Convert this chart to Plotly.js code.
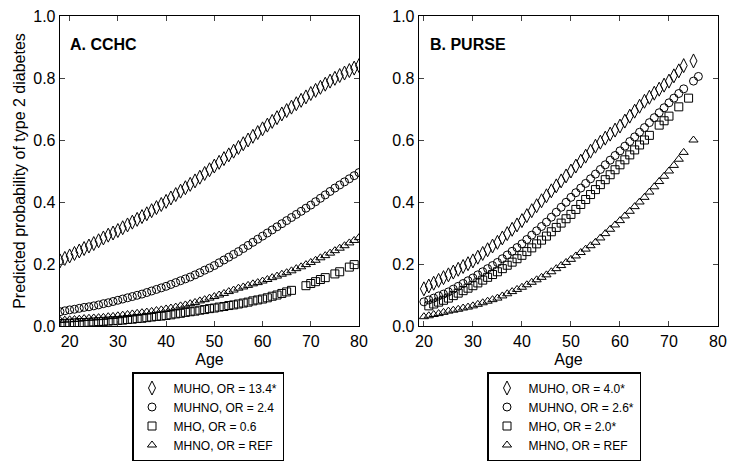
<!DOCTYPE html>
<html>
<head>
<meta charset="utf-8">
<script src="https://cdn.plot.ly/plotly-3.0.1.min.js"></script>
<style>html,body{margin:0;padding:0;background:#fff;}#chart{width:737px;height:464px;}</style>
</head>
<body>
<div id="chart"></div>
<script>
// ---- Panel A: CCHC ----
const cchcAge = [18,19,20,21,22,23,24,25,26,27,28,29,30,31,32,33,34,35,36,37,38,39,40,41,42,43,44,45,46,47,48,49,50,51,52,53,54,55,56,57,58,59,60,61,62,63,64,65,66,67,68,69,70,71,72,73,74,75,76,77,78,79,80];
const cchcMUHO = [.210,.218,.226,.234,.242,.250,.258,.266,.275,.284,.293,.300,.308,.317,.326,.335,.344,.353,.362,.372,.382,.392,.402,.413,.424,.435,.446,.457,.468,.480,.492,.504,.516,.528,.540,.552,.564,.576,.588,.600,.612,.624,.636,.648,.660,.672,.684,.695,.706,.717,.728,.739,.750,.760,.770,.780,.790,.799,.808,.816,.824,.832,.840];
const cchcMUHNO = [.046,.049,.052,.054,.057,.060,.062,.065,.068,.072,.075,.079,.083,.087,.091,.095,.099,.103,.108,.113,.118,.123,.128,.134,.140,.146,.152,.158,.165,.172,.180,.187,.195,.204,.213,.222,.231,.240,.250,.260,.270,.280,.290,.300,.310,.320,.330,.340,.350,.360,.370,.380,.390,.401,.412,.423,.434,.445,.455,.465,.475,.485,.495];
const cchcMHNO = [.018,.019,.020,.021,.022,.024,.025,.026,.027,.028,.030,.031,.033,.035,.037,.039,.041,.043,.045,.047,.050,.052,.055,.058,.061,.065,.068,.072,.076,.081,.085,.090,.095,.100,.105,.111,.116,.122,.126,.131,.136,.140,.145,.150,.156,.161,.167,.172,.178,.185,.191,.198,.205,.212,.220,.227,.235,.243,.251,.259,.268,.276,.285];
const cchcAgeMHO = [18,19,20,21,22,23,24,25,26,27,28,29,30,31,32,33,34,35,36,37,38,39,40,41,42,43,44,45,46,47,48,49,50,51,52,53,54,55,56,57,58,59,60,61,62,63,64,65,66,69,70,71,72,73,75,76,78,79];
const cchcMHO = [.008,.0085,.009,.010,.011,.011,.012,.013,.014,.015,.016,.017,.018,.019,.021,.022,.024,.025,.027,.029,.031,.032,.034,.036,.039,.041,.044,.046,.048,.051,.053,.056,.058,.061,.063,.066,.068,.071,.074,.077,.081,.084,.087,.091,.096,.100,.105,.110,.115,.130,.137,.143,.150,.156,.168,.175,.190,.198];

// ---- Panel B: PURSE ----
const purseAgeMUHO = [20,21,22,23,24,25,26,27,28,29,30,31,32,33,34,35,36,37,38,39,40,41,42,43,44,45,46,47,48,49,50,51,52,53,54,55,56,57,58,59,60,61,62,63,64,65,66,67,68,69,70,71,72,73,75];
const purseMUHO = [.120,.129,.138,.147,.156,.165,.174,.183,.192,.201,.210,.222,.234,.246,.258,.270,.284,.298,.312,.326,.340,.356,.372,.388,.404,.420,.436,.452,.468,.484,.500,.516,.532,.548,.564,.580,.593,.606,.619,.632,.645,.661,.677,.693,.709,.725,.738,.751,.764,.777,.790,.807,.823,.840,.855];
const purseAgeMUHNO = [20,21,22,23,24,25,26,27,28,29,30,31,32,33,34,35,36,37,38,39,40,41,42,43,44,45,46,47,48,49,50,51,52,53,54,55,56,57,58,59,60,61,62,63,64,65,66,67,68,69,70,71,72,73,75,76];
const purseMUHNO = [.078,.084,.090,.097,.103,.110,.119,.128,.137,.146,.155,.165,.175,.185,.195,.205,.217,.229,.241,.253,.265,.279,.293,.307,.321,.335,.351,.367,.383,.399,.415,.430,.445,.460,.475,.490,.505,.520,.535,.550,.565,.580,.595,.610,.625,.640,.656,.672,.688,.704,.720,.735,.750,.765,.790,.805];
const purseAgeMHO = [21,22,23,24,25,26,27,28,29,30,31,32,33,34,35,36,37,38,39,40,41,42,43,44,45,46,47,48,49,50,51,52,53,54,55,56,57,58,59,60,61,62,63,64,65,66,68,69,70,72,74];
const purseMHO = [.065,.071,.077,.083,.090,.098,.106,.114,.122,.130,.139,.148,.157,.166,.175,.185,.196,.206,.217,.228,.240,.252,.265,.277,.290,.304,.318,.332,.346,.360,.376,.392,.408,.424,.440,.456,.472,.488,.504,.520,.536,.552,.568,.584,.600,.615,.648,.662,.677,.707,.735];
const purseAgeMHNO = [20,21,22,23,24,25,26,27,28,29,30,31,32,33,34,35,36,37,38,39,40,41,42,43,44,45,46,47,48,49,50,51,52,53,54,55,56,57,58,59,60,61,62,63,64,65,66,67,68,69,70,71,72,73,75];
const purseMHNO = [.030,.033,.037,.040,.044,.048,.051,.054,.058,.061,.065,.070,.075,.080,.085,.090,.097,.104,.111,.118,.125,.133,.141,.149,.157,.165,.175,.185,.195,.205,.215,.226,.237,.248,.259,.270,.284,.298,.312,.326,.340,.355,.370,.385,.400,.415,.432,.449,.466,.483,.500,.518,.538,.560,.600];

const namesA = ["MUHO, OR = 13.4*", "MUHNO, OR = 2.4", "MHO, OR = 0.6", "MHNO, OR = REF"];
const namesB = ["MUHO, OR = 4.0*", "MUHNO, OR = 2.6*", "MHO, OR = 2.0*", "MHNO, OR = REF"];
const xTicks = [20,30,40,50,60,70,80];
const yTicks = [0,0.2,0.4,0.6,0.8,1.0];

const sym = [
  {symbol:'diamond-tall-open', size:10},
  {symbol:'circle-open', size:8},
  {symbol:'square-open', size:8},
  {symbol:'triangle-up-open', size:8}
];
function tr(x, y, name, k, xa, ya, leg) {
  return {x:x, y:y, name:name, type:'scatter', mode:'markers', xaxis:xa, yaxis:ya, legend:leg,
    marker:{symbol:sym[k].symbol, size:sym[k].size, color:'#000', line:{color:'#000', width:1}}};
}
const data = [
  tr(cchcAge, cchcMUHO, namesA[0], 0, 'x', 'y', 'legend'),
  tr(cchcAge, cchcMUHNO, namesA[1], 1, 'x', 'y', 'legend'),
  tr(cchcAgeMHO, cchcMHO, namesA[2], 2, 'x', 'y', 'legend'),
  tr(cchcAge, cchcMHNO, namesA[3], 3, 'x', 'y', 'legend'),
  tr(purseAgeMUHO, purseMUHO, namesB[0], 0, 'x2', 'y2', 'legend2'),
  tr(purseAgeMUHNO, purseMUHNO, namesB[1], 1, 'x2', 'y2', 'legend2'),
  tr(purseAgeMHO, purseMHO, namesB[2], 2, 'x2', 'y2', 'legend2'),
  tr(purseAgeMHNO, purseMHNO, namesB[3], 3, 'x2', 'y2', 'legend2')
];

const FONT = 'Liberation Sans, Arial, sans-serif';
const tickFont = {family:FONT, size:16, color:'#000'};
function xax(domain, range, anchor) {
  return {domain:domain, range:range, anchor:anchor, tickvals:xTicks, ticks:'inside', ticklen:5, tickwidth:1,
    showline:true, linecolor:'#000', linewidth:1.3, mirror:'allticks', showgrid:false, zeroline:false,
    tickfont:tickFont, title:{text:'Age', font:{family:FONT, size:16, color:'#000'}, standoff:5}};
}
function yax(domain, anchor, title) {
  return {domain:domain, range:[0,1], anchor:anchor, tickvals:yTicks, tickformat:'.1f', ticks:'inside', ticklen:5, tickwidth:1,
    showline:true, linecolor:'#000', linewidth:1.3, mirror:'allticks', showgrid:false, zeroline:false,
    tickfont:tickFont, title:{text:title, font:{family:FONT, size:16, color:'#000'}, standoff:3}};
}
const legFont = {family:FONT, size:12, color:'#000'};
const yd = [1-326/464, 1-16/464];
const legBase = {y:1-372/464, xanchor:'left', yanchor:'top', bordercolor:'#000', borderwidth:1.5,
    font:legFont, bgcolor:'#fff', tracegroupgap:0, itemwidth:33, indentation:-3};
const layout = {
  width:737, height:464, margin:{l:0, r:0, t:0, b:0}, paper_bgcolor:'#fff', plot_bgcolor:'#fff',
  showlegend:true,
  xaxis: xax([60/737, 359/737], [18, 80], 'y'),
  yaxis: yax(yd, 'x', 'Predicted probability of type 2 diabetes'),
  xaxis2: xax([419/737, 718/737], [19, 80], 'y2'),
  yaxis2: yax(yd, 'x2', ''),
  legend: Object.assign({x:132/737}, legBase),
  legend2: Object.assign({x:487/737}, legBase),
  annotations: [
    {text:'<b>A. CCHC</b>', xref:'paper', yref:'paper', x:68/737, y:1-44/464, xanchor:'left', yanchor:'middle',
      showarrow:false, font:{family:FONT, size:16, color:'#000'}},
    {text:'<b>B. PURSE</b>', xref:'paper', yref:'paper', x:428/737, y:1-44/464, xanchor:'left', yanchor:'middle',
      showarrow:false, font:{family:FONT, size:16, color:'#000'}}
  ]
};
Plotly.newPlot('chart', data, layout, {displayModeBar:false, staticPlot:true});
</script>
</body>
</html>
